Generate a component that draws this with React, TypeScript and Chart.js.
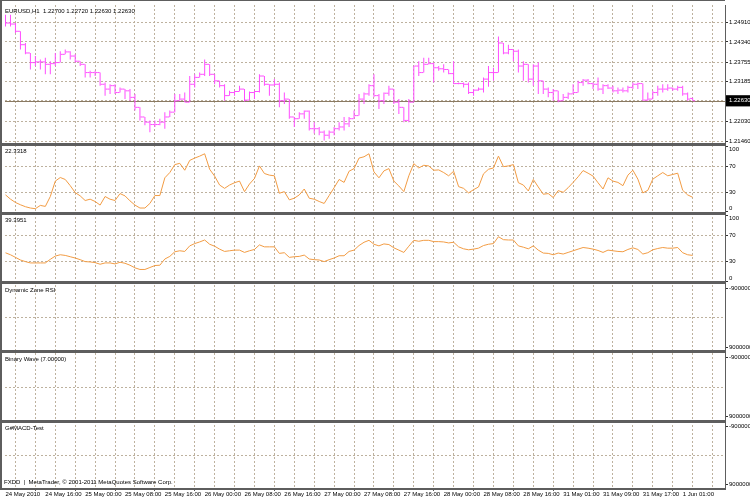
import React, { useEffect, useRef } from 'react';
import { Chart, registerables } from 'chart.js';

Chart.register(...registerables);

// ---------------- data ----------------
const symbolTitle = 'EURUSD,H1';
const lastBarValues = ['1.22700', '1.22720', '1.22630', '1.22630'];
const bidPrice = 1.2263;

const openPrices = [
  1.2503, 1.2489, 1.2486, 1.2465, 1.2426, 1.2402, 1.2374, 1.2376, 1.2376, 1.2369,
  1.2371, 1.2374, 1.2398, 1.2405, 1.2393, 1.2378, 1.2369, 1.2345, 1.2345, 1.2345,
  1.2311, 1.2297, 1.2307, 1.2287, 1.2297, 1.2292, 1.2273, 1.2244, 1.2216, 1.2201,
  1.2194, 1.2194, 1.2201, 1.2216, 1.2230, 1.2263, 1.2268, 1.2259, 1.2311, 1.2331,
  1.2340, 1.2369, 1.2340, 1.2321, 1.2307, 1.2278, 1.2287, 1.2290, 1.2297, 1.2265,
  1.2287, 1.2290, 1.2335, 1.2311, 1.2309, 1.2311, 1.2263, 1.2268, 1.2216, 1.2211,
  1.2225, 1.2233, 1.2182, 1.2182, 1.2172, 1.2163, 1.2172, 1.2182, 1.2187, 1.2196,
  1.2211, 1.2220, 1.2268, 1.2283, 1.2307, 1.2278, 1.2263, 1.2285, 1.2297, 1.2259,
  1.2244, 1.2206, 1.2259, 1.2364, 1.2345, 1.2369, 1.2371, 1.2359, 1.2356, 1.2354,
  1.2342, 1.2313, 1.2313, 1.2311, 1.2287, 1.2294, 1.2297, 1.2326, 1.2345, 1.2345,
  1.2431, 1.2402, 1.2412, 1.2407, 1.2364, 1.2369, 1.2326, 1.2364, 1.2321, 1.2297,
  1.2287, 1.2292, 1.2263, 1.2273, 1.2283, 1.2287, 1.2316, 1.2323, 1.2313, 1.2311,
  1.2297, 1.2307, 1.2300, 1.2292, 1.2294, 1.2292, 1.2302, 1.2311, 1.2313, 1.2265,
  1.2268, 1.2287, 1.2297, 1.2297, 1.2300, 1.2297, 1.2302, 1.2283, 1.2270,
];

const highPrices = [
  1.2513, 1.2513, 1.2489, 1.2465, 1.2431, 1.2402, 1.2393, 1.2383, 1.2388, 1.2378,
  1.2402, 1.2407, 1.2412, 1.2407, 1.2398, 1.2378, 1.2369, 1.2350, 1.2350, 1.2345,
  1.2316, 1.2311, 1.2311, 1.2302, 1.2297, 1.2297, 1.2283, 1.2244, 1.2216, 1.2206,
  1.2206, 1.2211, 1.2230, 1.2235, 1.2283, 1.2283, 1.2287, 1.2335, 1.2340, 1.2345,
  1.2383, 1.2369, 1.2340, 1.2321, 1.2311, 1.2292, 1.2292, 1.2307, 1.2297, 1.2290,
  1.2292, 1.2340, 1.2335, 1.2311, 1.2326, 1.2316, 1.2287, 1.2268, 1.2216, 1.2230,
  1.2235, 1.2235, 1.2201, 1.2187, 1.2177, 1.2177, 1.2187, 1.2201, 1.2216, 1.2216,
  1.2235, 1.2283, 1.2287, 1.2311, 1.2340, 1.2283, 1.2287, 1.2307, 1.2297, 1.2268,
  1.2244, 1.2268, 1.2364, 1.2378, 1.2388, 1.2388, 1.2374, 1.2364, 1.2369, 1.2354,
  1.2378, 1.2316, 1.2316, 1.2316, 1.2297, 1.2302, 1.2331, 1.2364, 1.2359, 1.2450,
  1.2431, 1.2426, 1.2412, 1.2412, 1.2378, 1.2369, 1.2369, 1.2374, 1.2321, 1.2302,
  1.2297, 1.2292, 1.2283, 1.2287, 1.2311, 1.2321, 1.2326, 1.2326, 1.2316, 1.2331,
  1.2311, 1.2311, 1.2307, 1.2302, 1.2302, 1.2307, 1.2316, 1.2316, 1.2313, 1.2287,
  1.2292, 1.2307, 1.2311, 1.2311, 1.2302, 1.2307, 1.2307, 1.2287, 1.2272,
];

const lowPrices = [
  1.2479, 1.2479, 1.2460, 1.2412, 1.2398, 1.2354, 1.2364, 1.2354, 1.2340, 1.2340,
  1.2364, 1.2374, 1.2398, 1.2383, 1.2374, 1.2364, 1.2331, 1.2331, 1.2335, 1.2307,
  1.2278, 1.2283, 1.2283, 1.2287, 1.2268, 1.2263, 1.2235, 1.2206, 1.2192, 1.2172,
  1.2187, 1.2192, 1.2182, 1.2216, 1.2230, 1.2263, 1.2259, 1.2259, 1.2302, 1.2331,
  1.2335, 1.2335, 1.2311, 1.2302, 1.2263, 1.2278, 1.2278, 1.2290, 1.2261, 1.2265,
  1.2268, 1.2287, 1.2307, 1.2278, 1.2307, 1.2244, 1.2254, 1.2211, 1.2187, 1.2211,
  1.2211, 1.2177, 1.2168, 1.2163, 1.2148, 1.2153, 1.2163, 1.2177, 1.2177, 1.2187,
  1.2211, 1.2220, 1.2254, 1.2278, 1.2273, 1.2239, 1.2254, 1.2278, 1.2254, 1.2225,
  1.2201, 1.2201, 1.2259, 1.2335, 1.2345, 1.2369, 1.2316, 1.2350, 1.2345, 1.2340,
  1.2311, 1.2311, 1.2302, 1.2283, 1.2278, 1.2292, 1.2287, 1.2304, 1.2321, 1.2345,
  1.2398, 1.2398, 1.2378, 1.2345, 1.2321, 1.2316, 1.2307, 1.2283, 1.2283, 1.2273,
  1.2263, 1.2259, 1.2263, 1.2268, 1.2283, 1.2287, 1.2307, 1.2311, 1.2297, 1.2292,
  1.2283, 1.2297, 1.2287, 1.2283, 1.2287, 1.2287, 1.2297, 1.2297, 1.2263, 1.2263,
  1.2268, 1.2278, 1.2287, 1.2292, 1.2292, 1.2292, 1.2278, 1.2263, 1.2263,
];

const closePrices = [
  1.2489, 1.2486, 1.2465, 1.2426, 1.2402, 1.2374, 1.2376, 1.2376, 1.2369, 1.2371,
  1.2374, 1.2398, 1.2405, 1.2393, 1.2378, 1.2369, 1.2345, 1.2345, 1.2345, 1.2311,
  1.2297, 1.2307, 1.2287, 1.2297, 1.2292, 1.2273, 1.2244, 1.2216, 1.2201, 1.2194,
  1.2194, 1.2201, 1.2216, 1.2230, 1.2263, 1.2268, 1.2259, 1.2311, 1.2331, 1.2340,
  1.2369, 1.2340, 1.2321, 1.2307, 1.2278, 1.2287, 1.2290, 1.2297, 1.2265, 1.2287,
  1.2290, 1.2335, 1.2311, 1.2309, 1.2311, 1.2263, 1.2268, 1.2216, 1.2211, 1.2225,
  1.2233, 1.2182, 1.2182, 1.2172, 1.2163, 1.2172, 1.2182, 1.2187, 1.2196, 1.2211,
  1.2220, 1.2268, 1.2283, 1.2307, 1.2278, 1.2263, 1.2285, 1.2297, 1.2259, 1.2244,
  1.2206, 1.2259, 1.2364, 1.2345, 1.2369, 1.2371, 1.2359, 1.2356, 1.2354, 1.2342,
  1.2313, 1.2313, 1.2311, 1.2287, 1.2294, 1.2297, 1.2326, 1.2345, 1.2345, 1.2431,
  1.2402, 1.2412, 1.2407, 1.2364, 1.2369, 1.2326, 1.2364, 1.2321, 1.2297, 1.2287,
  1.2292, 1.2263, 1.2273, 1.2283, 1.2287, 1.2316, 1.2323, 1.2313, 1.2311, 1.2297,
  1.2307, 1.2300, 1.2292, 1.2294, 1.2292, 1.2302, 1.2311, 1.2313, 1.2265, 1.2268,
  1.2287, 1.2297, 1.2297, 1.2300, 1.2297, 1.2302, 1.2283, 1.2268, 1.2263,
];

// first oscillator pane (title "22.3318")
const oscFast = [
  26, 19.5, 14.4, 10.9, 7.9, 5.9, 4.9, 9.9, 8.4, 23.5,
  47.1, 52.6, 49.6, 40.1, 29.5, 24.5, 17.4, 19.4, 15.9, 10.4,
  23.5, 19.4, 17.4, 28, 24.5, 16.9, 10.4, 5.9, 5.9, 12.9,
  25, 25, 52.1, 60.2, 72.3, 74.3, 63.7, 78.8, 82.3, 85.3,
  88.9, 65.2, 54.7, 41.1, 36, 41.1, 44.6, 47.1, 31, 42.6,
  51.1, 70.3, 58.7, 56.2, 55.2, 28.5, 31, 18.4, 20.9, 26,
  35, 20.9, 19.4, 15.9, 12.9, 25, 37, 49.6, 45.1, 62.2,
  66.2, 82.3, 84.3, 88.9, 61.2, 52.1, 62.7, 66.2, 47.1, 39.6,
  31, 55.2, 73.8, 67.2, 71.3, 70.3, 63.7, 64.2, 60.2, 55.2,
  62.2, 38.6, 36, 29, 34, 38.1, 58.2, 65.2, 67.2, 85.3,
  69.2, 70.3, 72.3, 44.6, 41.1, 32, 49.6, 38.1, 27, 28,
  22, 32.5, 30, 37, 45.1, 53.7, 63.2, 59.2, 54.7, 44.6,
  35, 52.1, 47.1, 45.1, 40.1, 56.2, 63.7, 50.1, 29, 33,
  50.1, 55.2, 60.2, 55.2, 57.2, 59.2, 33, 26, 22.3318,
];

// second oscillator pane (title "39.3951")
const oscSlow = [
  43.4, 40.4, 36.4, 32.4, 29.9, 27.9, 27.9, 27.9, 27.9, 33.4,
  38.4, 40.4, 39.4, 37.4, 35.4, 32.9, 29.9, 29.4, 28.4, 25.9,
  27.9, 27.9, 26.4, 28.9, 27.4, 24.4, 20.4, 17.9, 17.9, 20.9,
  23.9, 24.4, 33.9, 37.9, 45, 46.5, 45.5, 54, 57.5, 60,
  63, 56.5, 53.5, 49, 45.5, 46.5, 47.5, 47.5, 44, 46.5,
  48.5, 55.5, 52.5, 52.5, 52.5, 42.5, 43.5, 36.4, 37.4, 37.9,
  39.9, 33.9, 32.9, 32.4, 29.9, 32.9, 35.4, 38.9, 38.9, 45.5,
  47.5, 54.5, 59.5, 62.5, 56.5, 54, 57, 56, 51, 47.5,
  44, 53.5, 62.5, 61, 62.5, 62.5, 60.5, 60.5, 60, 58.5,
  59.5, 52.5, 49.5, 48, 49, 50.5, 54.5, 56.5, 57.5, 68,
  63.5, 63, 63, 54, 52, 49.5, 54, 47.5, 43, 42.5,
  40.4, 43, 41.5, 44, 46.5, 49, 51.5, 50.5, 49, 47,
  44, 47.5, 46.5, 45.5, 45, 48.5, 51, 48.5, 41.5, 43.5,
  48, 50, 51.5, 50.5, 50.5, 51.5, 43.5, 40.4, 39.3951,
];

const priceTicks = [1.2146, 1.2203, 1.2263, 1.23185, 1.23755, 1.2434, 1.2491];
const oscTicks = [0, 30, 70, 100];
const oscLevels = [30, 70];
const oscEdgeTicks = [0, 100];
const emptyTicks = [-9000000, 0, 9000000];

const timeTickIndex = [0, 8, 16, 24, 32, 40, 48, 56, 64, 72, 80, 88, 96, 104, 112, 120, 128, 136];
const timeLabels = [
  '24 May 2010', '24 May 16:00', '25 May 00:00', '25 May 08:00', '25 May 16:00', '26 May 00:00',
  '26 May 08:00', '26 May 16:00', '27 May 00:00', '27 May 08:00', '27 May 16:00', '28 May 00:00',
  '28 May 08:00', '28 May 16:00', '31 May 01:00', '31 May 09:00', '31 May 17:00', '1 Jun 01:00',
];

const paneTitles = [
  symbolTitle + '  ' + lastBarValues.join(' '),
  '22.3318',
  '39.3951',
  'Dynamic Zone RSI',
  'Binary Wave (7.00000)',
  'G#MACD-Test',
];
const footerText = 'FXDD  |  MetaTrader, \u00A9 2001-2011 MetaQuotes Software Corp.';

// ---------------- styles ----------------
const BAR_COLOR = '#ff4cff';
const OSC_COLOR = '#f29c44';
const GRID_COLOR = '#bdb19e';
const FRAME_COLOR = '#5e5e5e';
const BID_COLOR = '#8a7a62';
const TEXT_COLOR = '#000000';
const NONE = 'rgba(0,0,0,0)';

function fontAvailable(name: string): boolean {
  const c = document.createElement('canvas').getContext('2d');
  if (!c) return false;
  const s = 'EURUSD 1.22700 May 0123456789';
  c.font = '20px monospace';
  const a = c.measureText(s).width;
  c.font = `20px "${name}", monospace`;
  const b = c.measureText(s).width;
  return Math.abs(a - b) > 0.5;
}

export default function App() {
  const canvasRef = useRef<HTMLCanvasElement | null>(null);

  useEffect(() => {
    const canvas = canvasRef.current;
    if (!canvas) return;

    const narrow = fontAvailable('Liberation Sans Narrow');
    const family = narrow ? '"Liberation Sans Narrow", "Liberation Sans", Arial, sans-serif' : '"Liberation Sans", Arial, sans-serif';
    const size = narrow ? 7 : 6;
    const font = { family, size, weight: 'normal' as const };
    const cssFont = `${size}px ${family}`;

    const xGridIdx: number[] = [];
    for (let v = 0; v <= 144; v += 4) xGridIdx.push(v);

    const tickOffset = 0.3;

    const yBase = (weight: number) => ({
      type: 'linear' as const,
      position: 'right' as const,
      stack: 'panes',
      stackWeight: weight,
      offset: false,
      border: { display: true, color: FRAME_COLOR, width: 1, dash: [2, 2] },
      ticks: {
        font,
        color: TEXT_COLOR,
        padding: 1,
        autoSkip: false,
        maxRotation: 0,
      },
      afterFit: (s: any) => {
        s.width = 25;
        s.paddingTop = 0;
        s.paddingBottom = 0;
      },
    });

    const oscAxis = (weight: number) => {
      const b = yBase(weight);
      return {
        ...b,
        min: -3,
        max: 103,
        afterBuildTicks: (s: any) => {
          s.ticks = oscTicks.map((v) => ({ value: v }));
        },
        grid: {
          color: (c: any) => (c.tick && oscLevels.includes(c.tick.value) ? GRID_COLOR : NONE),
          lineWidth: 1,
          drawTicks: true,
          tickLength: 3,
          tickColor: '#333333',
        },
        // edge labels (0 / 100) are drawn kept inside the pane by the frame plugin
        ticks: { ...b.ticks, callback: (v: any) => (oscEdgeTicks.includes(Number(v)) ? '' : String(v)) },
      };
    };

    const emptyAxis = (weight: number) => {
      const b = yBase(weight);
      return {
        ...b,
        min: -10500000,
        max: 10500000,
        reverse: true,
        afterBuildTicks: (s: any) => {
          s.ticks = emptyTicks.map((v) => ({ value: v }));
        },
        grid: {
          color: (c: any) => (c.tick && c.tick.value === 0 ? GRID_COLOR : NONE),
          lineWidth: 1,
          drawTicks: true,
          tickLength: 3,
          tickColor: (c: any) => (c.tick && c.tick.value === 0 ? NONE : '#333333'),
        },
        ticks: { ...b.ticks, callback: (v: any) => (v === 0 ? '' : String(v)) },
      };
    };

    const mainBase = yBase(141);
    const scales: any = {
      yMain: {
        ...mainBase,
        min: 1.21359,
        max: 1.25413,
        afterBuildTicks: (s: any) => {
          s.ticks = priceTicks.map((v) => ({ value: v }));
        },
        grid: { color: GRID_COLOR, lineWidth: 1, drawTicks: true, tickLength: 3, tickColor: '#333333' },
        ticks: {
          ...mainBase.ticks,
          callback: (v: any) => Number(v).toFixed(5),
          showLabelBackdrop: (c: any) => c.tick && c.tick.value === bidPrice,
          backdropColor: '#000000',
          backdropPadding: { top: 2, bottom: 2, left: 3, right: 8 },
          color: (c: any) => (c.tick && c.tick.value === bidPrice ? '#ffffff' : TEXT_COLOR),
        },
      },
      yOsc1: oscAxis(70),
      yOsc2: oscAxis(70),
      yDz: emptyAxis(70),
      yBw: emptyAxis(70),
      yMacd: emptyAxis(68),
      x: {
        type: 'linear',
        position: 'bottom',
        min: -0.1,
        max: 144.5,
        offset: false,
        afterBuildTicks: (s: any) => {
          s.ticks = xGridIdx.map((v) => ({ value: v }));
        },
        border: { display: false, dash: [2, 2] },
        grid: {
          color: (c: any) => (c.tick && c.tick.value > 0 ? GRID_COLOR : NONE),
          lineWidth: 1,
          drawTicks: true,
          tickLength: 2,
          tickColor: (c: any) => (c.tick && timeTickIndex.includes(c.tick.value) ? '#555555' : NONE),
        },
        ticks: {
          font,
          color: TEXT_COLOR,
          padding: 0,
          autoSkip: false,
          maxRotation: 0,
          minRotation: 0,
          align: 'start',
          callback: (v: any) => {
            const k = timeTickIndex.indexOf(Number(v));
            return k >= 0 ? timeLabels[k] : '';
          },
        },
        afterFit: (s: any) => {
          s.height = 11;
          s.paddingLeft = 0;
          s.paddingRight = 0;
        },
      },
    };

    const paneIds = ['yMain', 'yOsc1', 'yOsc2', 'yDz', 'yBw', 'yMacd'];
    const oscIds = ['yOsc1', 'yOsc2'];

    const framePlugin = {
      id: 'mtFrame',
      beforeDatasetsDraw(chart: any) {
        const { ctx, chartArea } = chart;
        const y = Math.round(chart.scales.yMain.getPixelForValue(bidPrice)) + 0.5;
        ctx.save();
        ctx.strokeStyle = BID_COLOR;
        ctx.lineWidth = 1;
        ctx.beginPath();
        ctx.moveTo(chartArea.left, y);
        ctx.lineTo(chartArea.right, y);
        ctx.stroke();
        ctx.restore();
      },
      afterDraw(chart: any) {
        const { ctx, chartArea } = chart;
        ctx.save();
        ctx.fillStyle = FRAME_COLOR;
        // pane separators
        for (let i = 0; i < paneIds.length - 1; i++) {
          const sc = chart.scales[paneIds[i]];
          const y = Math.round(sc.bottom);
          ctx.fillRect(0, y - 2, chartArea.right, 3);
        }
        // outer frame
        ctx.fillRect(0, Math.round(chartArea.bottom) - 1, chartArea.right + 1, 2);
        ctx.fillRect(0, 0, chartArea.right, 1);
        ctx.fillRect(0, 0, 2, chartArea.bottom);
        // pane titles
        ctx.fillStyle = TEXT_COLOR;
        ctx.font = cssFont;
        ctx.textAlign = 'left';
        ctx.textBaseline = 'middle';
        paneIds.forEach((id, i) => {
          const sc = chart.scales[id];
          ctx.fillText(paneTitles[i], 5, sc.top + (i === 0 ? 6 : 7));
        });
        ctx.fillText(footerText, 4, chartArea.bottom - 7);
        // edge labels of the oscillator panes, kept inside their pane
        oscIds.forEach((id) => {
          const sc = chart.scales[id];
          oscEdgeTicks.forEach((v) => {
            const p = sc.getPixelForValue(v);
            const y = Math.min(Math.max(p, sc.top + 4.5), sc.bottom - 5);
            ctx.fillText(String(v), sc.left + 4, y);
          });
        });
        ctx.restore();
      },
    };

    const chart = new Chart(canvas, {
      type: 'line',
      data: {
        datasets: [
          {
            type: 'bar',
            label: 'range',
            xAxisID: 'x',
            yAxisID: 'yMain',
            data: highPrices.map((h, i) => ({ x: i, y: [lowPrices[i], h] })) as any,
            backgroundColor: BAR_COLOR,
            borderWidth: 0,
            barThickness: 1,
            inflateAmount: 0,
            grouped: false,
          } as any,
          {
            type: 'line',
            label: 'open',
            xAxisID: 'x',
            yAxisID: 'yMain',
            data: openPrices.map((o, i) => ({ x: i - tickOffset, y: o })),
            showLine: false,
            pointStyle: 'line',
            pointRadius: 1,
            pointBorderWidth: 1,
            pointBorderColor: BAR_COLOR,
            pointBackgroundColor: BAR_COLOR,
          } as any,
          {
            type: 'line',
            label: 'close',
            xAxisID: 'x',
            yAxisID: 'yMain',
            data: closePrices.map((c, i) => ({ x: i + tickOffset, y: c })),
            showLine: false,
            pointStyle: 'line',
            pointRadius: 1,
            pointBorderWidth: 1,
            pointBorderColor: BAR_COLOR,
            pointBackgroundColor: BAR_COLOR,
          } as any,
          {
            type: 'line',
            label: 'osc1',
            xAxisID: 'x',
            yAxisID: 'yOsc1',
            data: oscFast.map((v, i) => ({ x: i, y: v })),
            borderColor: OSC_COLOR,
            borderWidth: 1,
            pointRadius: 0,
            tension: 0,
          } as any,
          {
            type: 'line',
            label: 'osc2',
            xAxisID: 'x',
            yAxisID: 'yOsc2',
            data: oscSlow.map((v, i) => ({ x: i, y: v })),
            borderColor: OSC_COLOR,
            borderWidth: 1,
            pointRadius: 0,
            tension: 0,
          } as any,
        ],
      },
      options: {
        animation: false,
        responsive: false,
        devicePixelRatio: 1,
        events: [],
        layout: { padding: { left: 2, top: 0, right: 0, bottom: 0 } },
        plugins: {
          legend: { display: false },
          tooltip: { enabled: false },
          title: { display: false },
        },
        scales,
      } as any,
      plugins: [framePlugin],
    });

    return () => {
      chart.destroy();
    };
  }, []);

  return (
    <div style={{ position: 'absolute', left: 0, top: 0, width: 750, height: 500, background: '#ffffff' }}>
      <canvas ref={canvasRef} width={750} height={500} style={{ display: 'block', width: 750, height: 500 }} />
    </div>
  );
}
